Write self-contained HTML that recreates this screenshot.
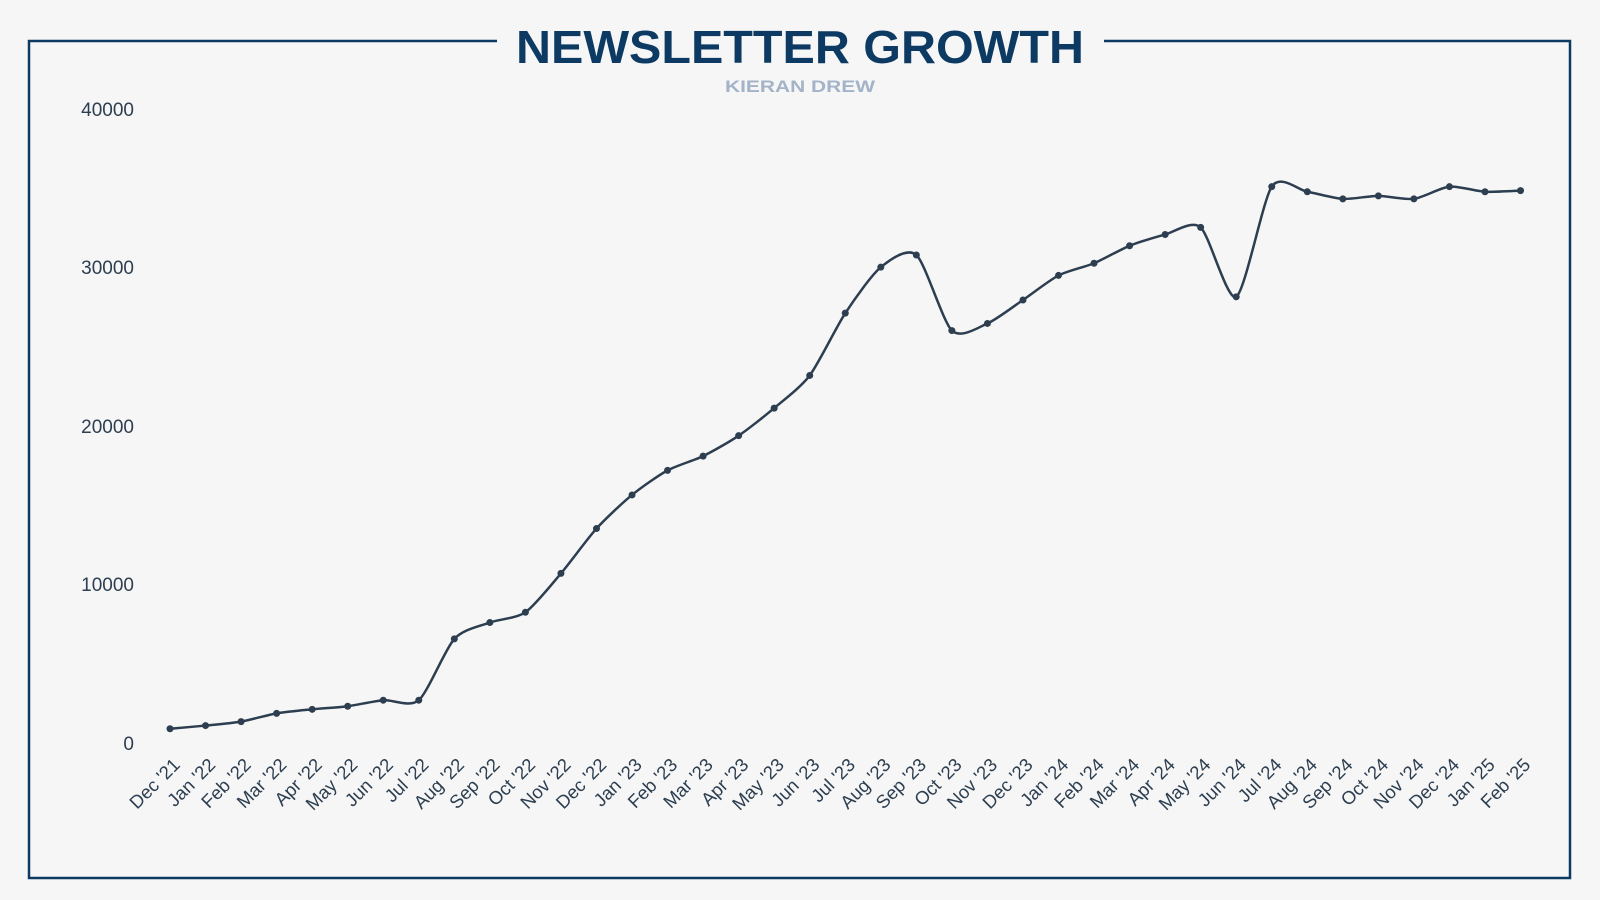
<!DOCTYPE html>
<html><head><meta charset="utf-8"><style>
html,body{margin:0;padding:0;background:#f6f6f6;}
svg{display:block;}
text{font-family:"Liberation Sans",sans-serif;}
</style></head><body>
<svg id="s" width="1600" height="900" viewBox="0 0 1600 900" xmlns="http://www.w3.org/2000/svg">
<rect width="1600" height="900" fill="#f6f6f6"/>
<rect x="29" y="41" width="1541" height="837" fill="none" stroke="#0d3a63" stroke-width="2.5"/>
<rect x="497" y="20" width="607" height="50" fill="#f6f6f6"/>
<text x="800" y="63" text-anchor="middle" font-size="46" font-weight="bold" fill="#0d3a63" textLength="568" lengthAdjust="spacingAndGlyphs">NEWSLETTER GROWTH</text>
<text x="800" y="92" text-anchor="middle" font-size="17" font-weight="bold" fill="#a3b3c8" textLength="150" lengthAdjust="spacingAndGlyphs">KIERAN DREW</text>
<g font-size="19" fill="#2c3e50" text-anchor="end">
<text x="134" y="116">40000</text>
<text x="134" y="274">30000</text>
<text x="134" y="433">20000</text>
<text x="134" y="591">10000</text>
<text x="134" y="750">0</text>
</g>
<g id="xl" font-size="18.5" fill="#2c3e50" text-anchor="end"></g>
<path id="ln" fill="none" stroke="#2c3e50" stroke-width="2.5"/>
<g id="dots" fill="#2c3e50"></g>
</svg>
<script>
var v=[900,1100,1350,1870,2125,2320,2700,2700,6570,7600,8250,10700,13530,15650,17200,18100,19390,21130,23190,27120,30020,30790,26020,26470,27950,29500,30270,31370,32080,32530,28150,35100,34780,34330,34520,34330,35100,34780,34850];
var mn=["Jan","Feb","Mar","Apr","May","Jun","Jul","Aug","Sep","Oct","Nov","Dec"];
var ns="http://www.w3.org/2000/svg";
var pts=v.map(function(d,i){return [170+i*35.54,743-d*0.01585];});
var p="M"+pts[0][0]+","+pts[0][1];
var k=8;
for(var i=0;i<pts.length-1;i++){
 var p0=pts[Math.max(0,i-1)],p1=pts[i],p2=pts[i+1],p3=pts[Math.min(pts.length-1,i+2)];
 var c1x=p1[0]+(p2[0]-p0[0])/k,c1y=p1[1]+(p2[1]-p0[1])/k;
 var c2x=p2[0]-(p3[0]-p1[0])/k,c2y=p2[1]-(p3[1]-p1[1])/k;
 p+=" C"+c1x+","+c1y+" "+c2x+","+c2y+" "+p2[0]+","+p2[1];
}
document.getElementById("ln").setAttribute("d",p);
var dg=document.getElementById("dots"),xg=document.getElementById("xl");
pts.forEach(function(q,i){
 var c=document.createElementNS(ns,"circle");c.setAttribute("cx",q[0]);c.setAttribute("cy",q[1]);c.setAttribute("r",3.5);dg.appendChild(c);
 var m=(11+i)%12,y=21+Math.floor((11+i)/12);
 var t=document.createElementNS(ns,"text");
 var x=q[0]+11,yy=766;
 t.setAttribute("x",x);t.setAttribute("y",yy);
 t.setAttribute("transform","rotate(-45 "+x+" "+yy+")");
 t.textContent=mn[m]+" '"+y;xg.appendChild(t);
});
</script>
</body></html>
